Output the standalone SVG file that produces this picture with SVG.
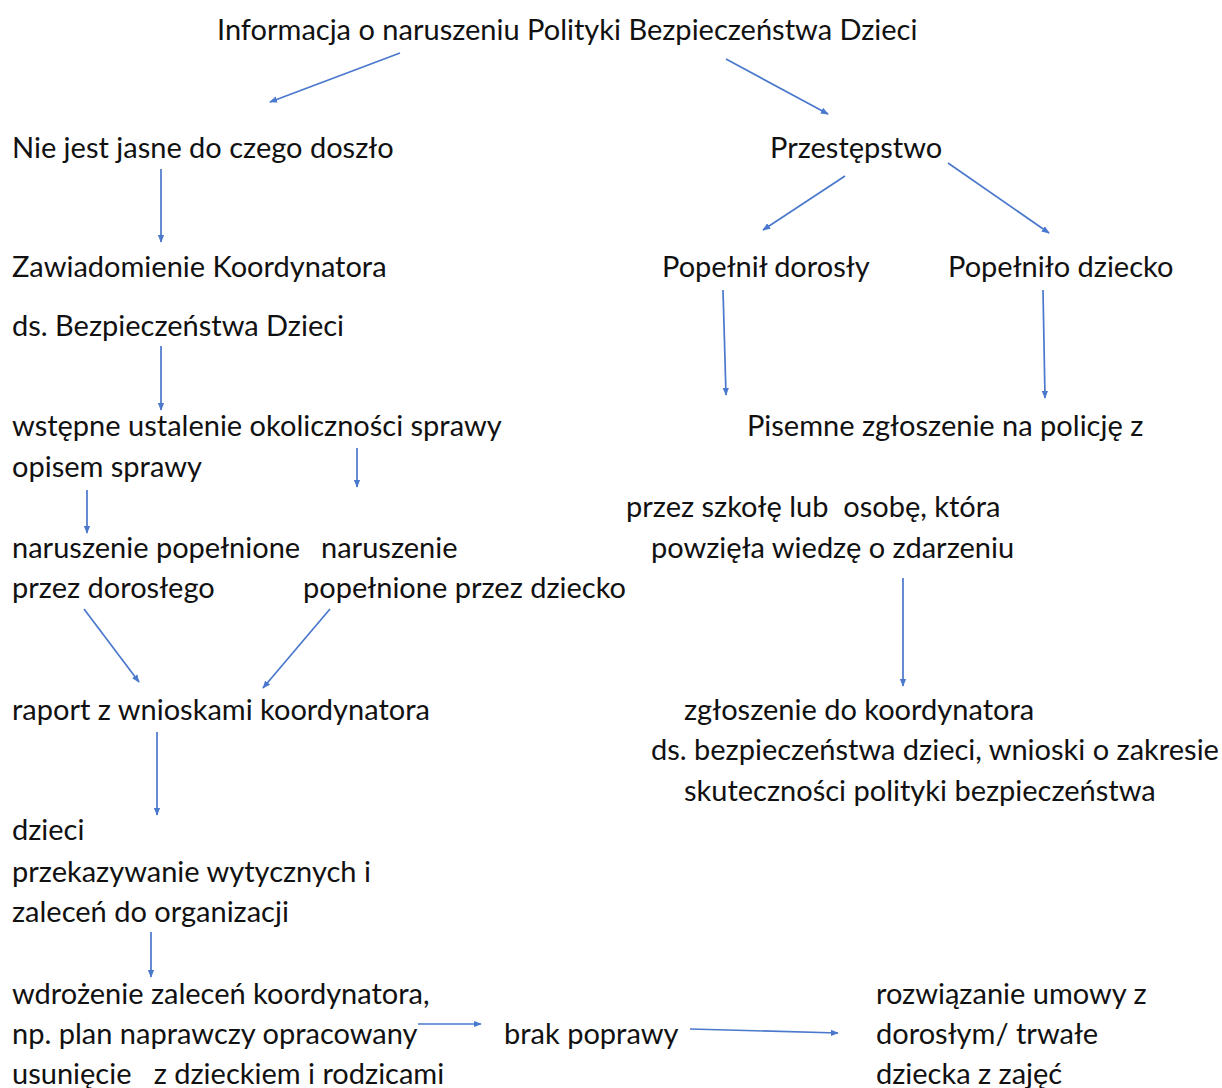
<svg xmlns="http://www.w3.org/2000/svg" width="1222" height="1088" viewBox="0 0 1222 1088">
<style>
text{font-family:Lato,"Noto Sans",sans-serif;font-size:29px;fill:#111;white-space:pre}
.c line{stroke:#4a78cc;stroke-width:1.7;marker-end:url(#ah)}
</style>
<defs>
<marker id="ah" viewBox="0 0 10 10" refX="9" refY="5" markerWidth="8" markerHeight="8" markerUnits="userSpaceOnUse" orient="auto">
<path d="M0,1 L10,5 L0,9 z" fill="#4a78cc"/>
</marker>
</defs>
<rect width="1222" height="1088" fill="#fff"/>
<g id="n1"><text x="217" y="40">Informacja o naruszeniu Polityki Bezpieczeństwa Dzieci</text></g>
<g id="n2"><text x="12" y="158">Nie jest jasne do czego doszło</text></g>
<g id="n3"><text x="770" y="158">Przestępstwo</text></g>
<g id="n4"><text x="12" y="277">Zawiadomienie Koordynatora</text><text x="12" y="336">ds. Bezpieczeństwa Dzieci</text></g>
<g id="n5"><text x="662" y="277">Popełnił dorosły</text></g>
<g id="n6"><text x="948" y="277">Popełniło dziecko</text></g>
<g id="n7"><text x="12" y="436">wstępne ustalenie okoliczności sprawy</text><text x="12" y="477">opisem sprawy</text></g>
<g id="n8"><text x="747" y="436">Pisemne zgłoszenie na policję z</text><text x="626" y="517" xml:space="preserve">przez szkołę lub  osobę, która</text><text x="651" y="558">powzięła wiedzę o zdarzeniu</text></g>
<g id="n9"><text x="12" y="558">naruszenie popełnione</text><text x="12" y="598">przez dorosłego</text></g>
<g id="n10"><text x="321" y="558">naruszenie</text><text x="303" y="598">popełnione przez dziecko</text></g>
<g id="n11"><text x="12" y="720">raport z wnioskami koordynatora</text></g>
<g id="n12"><text x="684" y="720">zgłoszenie do koordynatora</text><text x="651" y="760">ds. bezpieczeństwa dzieci, wnioski o zakresie</text><text x="684" y="801">skuteczności polityki bezpieczeństwa</text></g>
<g id="n13"><text x="12" y="840">dzieci</text><text x="12" y="882">przekazywanie wytycznych i</text><text x="12" y="922">zaleceń do organizacji</text></g>
<g id="n14"><text x="12" y="1004">wdrożenie zaleceń koordynatora,</text><text x="12" y="1044">np. plan naprawczy opracowany</text><text x="12" y="1084" xml:space="preserve">usunięcie   z dzieckiem i rodzicami</text></g>
<g id="n15"><text x="504" y="1044">brak poprawy</text></g>
<g id="n16"><text x="876" y="1004">rozwiązanie umowy z</text><text x="876" y="1044">dorosłym/ trwałe</text><text x="876" y="1084">dziecka z zajęć</text></g>
<g id="connectors" class="c">
<line x1="400" y1="53" x2="270" y2="102"/>
<line x1="726" y1="59" x2="828" y2="114"/>
<line x1="161" y1="169" x2="161" y2="242"/>
<line x1="845" y1="176" x2="763" y2="230"/>
<line x1="948" y1="163" x2="1049" y2="233"/>
<line x1="161" y1="346" x2="161" y2="410"/>
<line x1="357" y1="448" x2="357" y2="487"/>
<line x1="87" y1="490" x2="87" y2="533"/>
<line x1="723" y1="290" x2="726" y2="395"/>
<line x1="1043" y1="290" x2="1045" y2="398"/>
<line x1="84" y1="609" x2="139" y2="682"/>
<line x1="330" y1="609" x2="263" y2="688"/>
<line x1="157" y1="732" x2="157" y2="815"/>
<line x1="903" y1="578" x2="903" y2="686"/>
<line x1="151" y1="932" x2="151" y2="977"/>
<line x1="418" y1="1024" x2="481" y2="1024"/>
<line x1="690" y1="1029" x2="838" y2="1033"/>
</g>
</svg>
